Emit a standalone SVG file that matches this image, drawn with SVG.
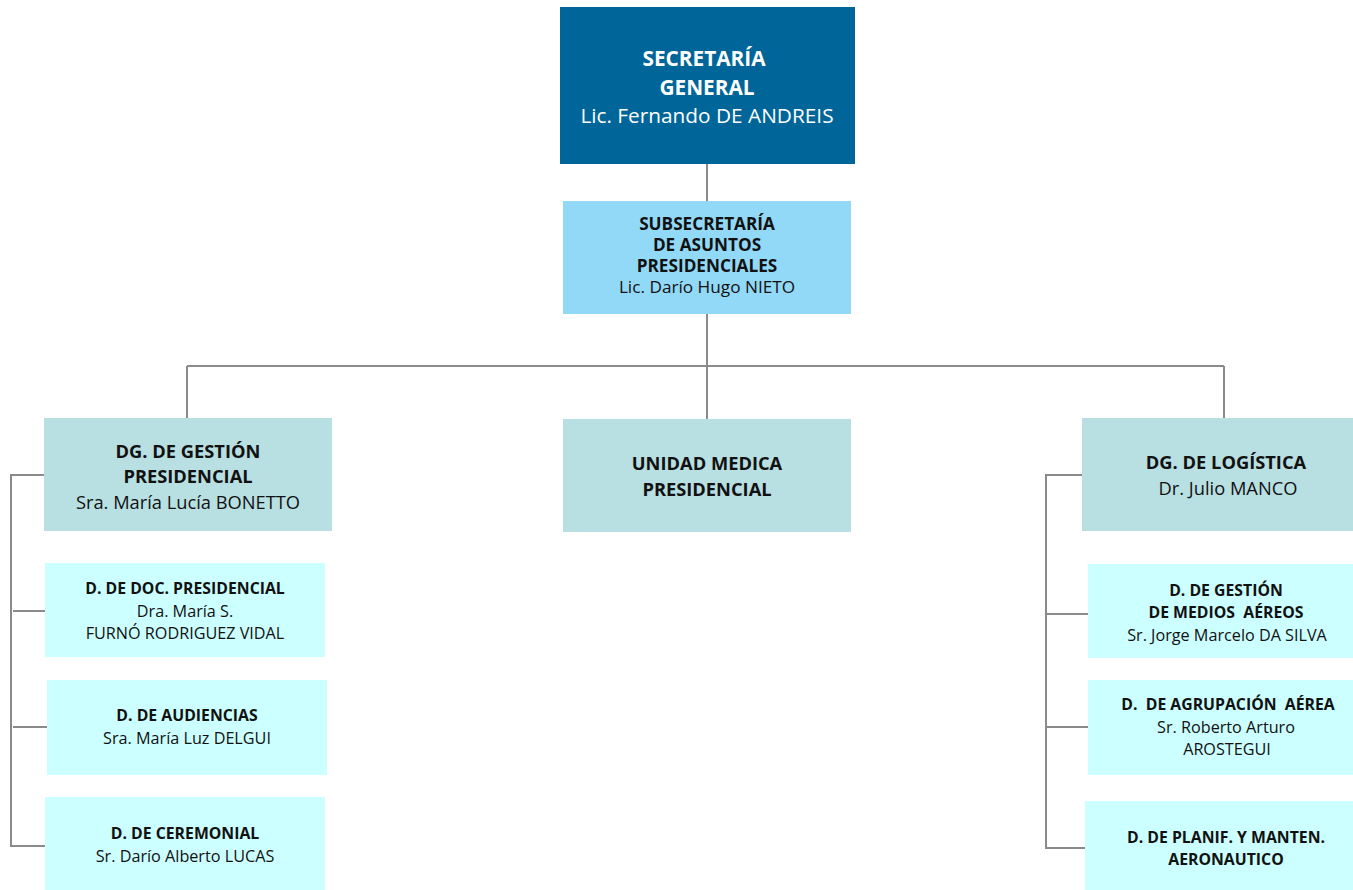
<svg xmlns="http://www.w3.org/2000/svg" width="1353" height="890" viewBox="0 0 1353 890">
<style>
.t{font-family:"Open Sans","Liberation Sans",sans-serif;text-anchor:middle;fill:#111}
.b{font-weight:bold}
.w{fill:#ffffff}
.ln{stroke:#8a8a8a;stroke-width:2;fill:none}
.top{fill:#006699}
.sub{fill:#92d9f7}
.dg{fill:#b8dfe2}
.d{fill:#ccffff}
.s1{font-size:20.8px}
.s2{font-size:18.3px}
.s2n{font-size:17.2px}
.s3b{font-size:15.8px}
.s3{font-size:16.2px}
</style>
<rect width="1353" height="890" fill="#ffffff"/>
<g id="connectors">
<path class="ln" d="M707 164V201M707 314V366M187 366H1224M187 366V418M707 366V419M1224 366V418"/>
<path class="ln" d="M44 475H11V846H45M13 611H45M13 727H47"/>
<path class="ln" d="M1082 475H1046V848H1085M1046 614H1088M1046 727H1088"/>
</g>
<g id="secretaria">
<rect class="top" x="560" y="7" width="295" height="157"/>
<text class="t b w s1" x="704" y="66">SECRETARÍA</text>
<text class="t b w s1" x="707" y="95">GENERAL</text>
<text class="t w s1" x="707" y="123">Lic. Fernando DE ANDREIS</text>
</g>
<g id="subsecretaria">
<rect class="sub" x="563" y="201" width="288" height="113"/>
<text class="t b s2n" x="707" y="230">SUBSECRETARÍA</text>
<text class="t b s2n" x="707" y="251">DE ASUNTOS</text>
<text class="t b s2n" x="707" y="272">PRESIDENCIALES</text>
<text class="t s2n" x="707" y="293">Lic. Darío Hugo NIETO</text>
</g>
<g id="dg-gestion">
<rect class="dg" x="44" y="418" width="288" height="113"/>
<text class="t b s2" x="188" y="458">DG. DE GESTIÓN</text>
<text class="t b s2" x="188" y="483">PRESIDENCIAL</text>
<text class="t s2" x="188" y="509">Sra. María Lucía BONETTO</text>
</g>
<g id="unidad-medica">
<rect class="dg" x="563" y="419" width="288" height="113"/>
<text class="t b s2" x="707" y="470">UNIDAD MEDICA</text>
<text class="t b s2" x="707" y="496">PRESIDENCIAL</text>
</g>
<g id="dg-logistica">
<rect class="dg" x="1082" y="418" width="271" height="113"/>
<text class="t b s2" x="1226" y="469">DG. DE LOGÍSTICA</text>
<text class="t s2" x="1228" y="495">Dr. Julio MANCO</text>
</g>
<g id="d-doc">
<rect class="d" x="45" y="563" width="280" height="94"/>
<text class="t b s3b" x="185" y="594">D. DE DOC. PRESIDENCIAL</text>
<text class="t s3" x="185" y="617">Dra. María S.</text>
<text class="t s3" x="185" y="639">FURNÓ RODRIGUEZ VIDAL</text>
</g>
<g id="d-audiencias">
<rect class="d" x="47" y="680" width="280" height="95"/>
<text class="t b s3b" x="187" y="721">D. DE AUDIENCIAS</text>
<text class="t s3" x="187" y="744">Sra. María Luz DELGUI</text>
</g>
<g id="d-ceremonial">
<rect class="d" x="45" y="797" width="280" height="93"/>
<text class="t b s3b" x="185" y="839">D. DE CEREMONIAL</text>
<text class="t s3" x="185" y="862">Sr. Darío Alberto LUCAS</text>
</g>
<g id="d-medios">
<rect class="d" x="1088" y="564" width="265" height="94"/>
<text class="t b s3b" x="1226" y="596">D. DE GESTIÓN</text>
<text class="t b s3b" x="1226" y="618" xml:space="preserve">DE MEDIOS  AÉREOS</text>
<text class="t s3" x="1227" y="641">Sr. Jorge Marcelo DA SILVA</text>
</g>
<g id="d-agrupacion">
<rect class="d" x="1088" y="680" width="265" height="95"/>
<text class="t b s3b" x="1228" y="710" xml:space="preserve">D.  DE AGRUPACIÓN  AÉREA</text>
<text class="t s3" x="1226" y="733">Sr. Roberto Arturo</text>
<text class="t s3" x="1227" y="755">AROSTEGUI</text>
</g>
<g id="d-planif">
<rect class="d" x="1085" y="801" width="268" height="89"/>
<text class="t b s3b" x="1226" y="843">D. DE PLANIF. Y MANTEN.</text>
<text class="t b s3b" x="1226" y="865">AERONAUTICO</text>
</g>
</svg>
